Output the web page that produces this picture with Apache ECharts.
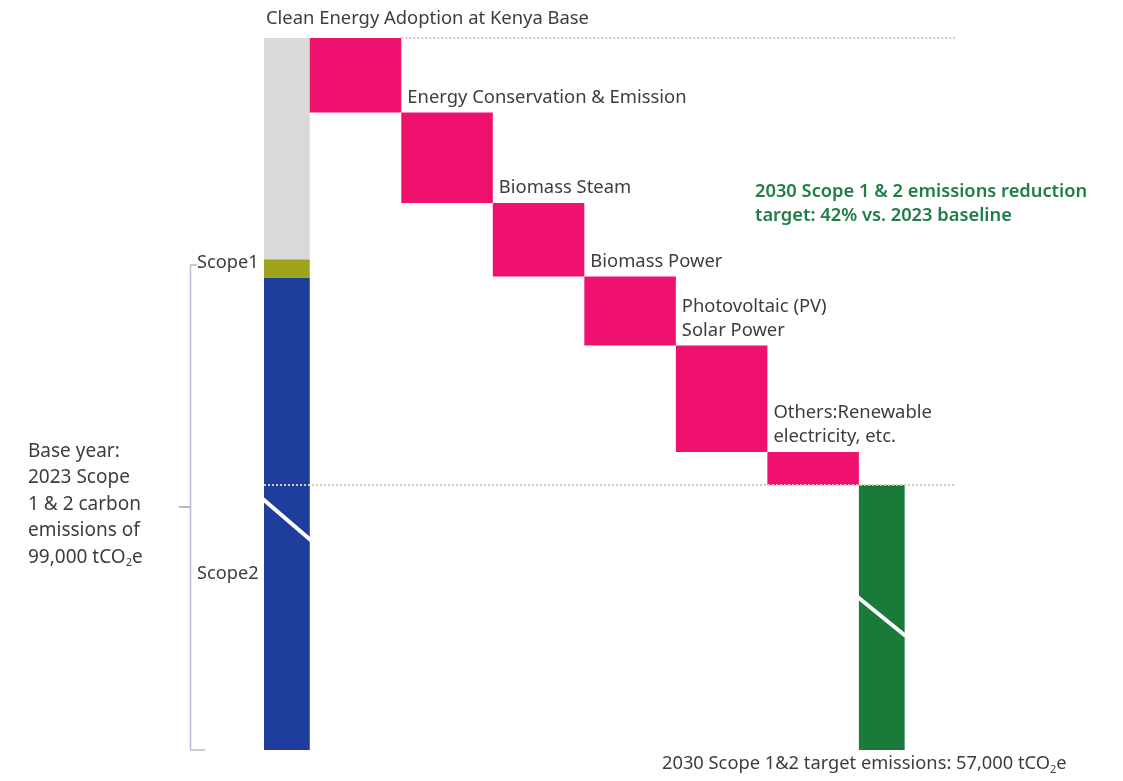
<!DOCTYPE html>
<html>
<head>
<meta charset="utf-8">
<script src="https://cdn.jsdelivr.net/npm/echarts@6/dist/echarts.min.js"></script>
<style>
html,body{margin:0;padding:0;background:#fff;}
#main{width:1123px;height:781px;}
</style>
</head>
<body>
<div id="main"></div>
<script>
// ---- data (thousand tCO2e) ----
const reductionLabels = [
  'Clean Energy Adoption at Kenya Base',
  'Energy Conservation & Emission',
  'Biomass Steam',
  'Biomass Power',
  'Photovoltaic (PV)\nSolar Power',
  'Others:Renewable\nelectricity, etc.'
];
const reductionValues = [7.0, 8.5, 6.9, 6.5, 10.0, 3.1];
const baseTotal = 99;
const baseSegmentNames = ['Scope2', 'Scope1', 'Other'];
const baseSegmentValues = [76.5, 1.7, 20.8];
const targetValue = 57;
const referenceLines = [99, 57];

const FONT = '"Noto Sans", "Open Sans", sans-serif';
const TXT = '#3d3d3d';
const colors = { Scope2: '#1f3d9c', Scope1: '#9ea51c', Other: '#d9d9d9', reduction: '#f0106e', target: '#1a7a3a' };

// build items: [x0, x1, yLow, yHigh, kind, idx]
const items = [];
let acc = 0;
baseSegmentValues.forEach((v, i) => {
  items.push([0, 1, acc, acc + v, baseSegmentNames[i], i]);
  acc += v;
});
let running = baseTotal;
reductionValues.forEach((v, i) => {
  items.push([1 + 2 * i, 3 + 2 * i, running - v, running, 'reduction', i]);
  running -= v;
});
items.push([13, 14, 0, targetValue, 'target', 0]);

const chart = echarts.init(document.getElementById('main'), null, { renderer: 'canvas' });

function renderBar(params, api) {
  const it = items[params.dataIndex];
  const p0 = api.coord([it[0], it[3]]);
  const p1 = api.coord([it[1], it[2]]);
  const kind = it[4];
  const children = [{
    type: 'rect',
    shape: { x: p0[0], y: p0[1], width: p1[0] - p0[0], height: p1[1] - p0[1] },
    style: { fill: colors[kind] }
  }];
  const yRef = api.coord([0, targetValue])[1];
  if (kind === 'Scope2') {
    children.push({ type: 'line', z2: 5,
      shape: { x1: p0[0] - 7, y1: yRef + 9, x2: p1[0] + 2, y2: yRef + 56 },
      style: { stroke: '#fff', lineWidth: 4 } });
  }
  if (kind === 'target') {
    children.push({ type: 'line', z2: 5,
      shape: { x1: p0[0] - 16, y1: yRef + 100, x2: p1[0] + 1, y2: yRef + 151 },
      style: { stroke: '#fff', lineWidth: 4 } });
  }
  if (kind === 'reduction') {
    const i = it[5];
    if (i === 0) {
      const bx = api.coord([0, baseTotal])[0];
      children.push({ type: 'text', z2: 10,
        style: { x: bx + 2, y: p0[1] - 19, text: reductionLabels[i], fill: TXT,
          font: '18.4px ' + FONT, verticalAlign: 'middle', align: 'left' } });
    } else {
      children.push({ type: 'text', z2: 10,
        style: { x: p0[0] + 6, y: p0[1] - 3, text: reductionLabels[i], fill: TXT,
          fontFamily: FONT, fontSize: 18.4, lineHeight: 24, verticalAlign: 'bottom', align: 'left' } });
    }
  }
  return { type: 'group', children: children };
}

function renderRefLine(params, api) {
  const v = referenceLines[params.dataIndex];
  const xs = params.dataIndex === 0 ? 3 : 0;
  const a = api.coord([xs, v]);
  const b = api.coord([15.1, v]);
  return { type: 'line', shape: { x1: a[0], y1: a[1], x2: b[0], y2: b[1] },
    style: { stroke: '#cfcdb6', lineWidth: 2, lineDash: [2, 2] } };
}

const option = {
  animation: false,
  backgroundColor: '#fff',
  grid: { left: 264, right: 1123 - 955, top: 38, bottom: 31 },
  xAxis: { type: 'value', min: 0, max: 15.1, show: false },
  yAxis: {
    type: 'value', min: 0, max: baseTotal, show: false,
    breaks: [{ start: 20, end: 52.1, gap: 0 }],
    breakArea: { show: false }
  },
  series: [
    { type: 'custom', renderItem: renderBar, data: items, z: 2, silent: true },
    { type: 'custom', renderItem: renderRefLine, data: referenceLines.map(v => [0, v]), z: 3, silent: true }
  ],
  graphic: [
    { type: 'polyline', shape: { points: [[197, 265], [190.5, 265], [190.5, 750], [205, 750]] },
      style: { stroke: '#b9b9cf', lineWidth: 1.5, fill: null } },
    { type: 'line', shape: { x1: 179, y1: 507, x2: 190, y2: 507 }, style: { stroke: '#a0a0a0', lineWidth: 1.5 } },
    { type: 'text', left: 197, top: 254, style: { text: 'Scope1', fill: TXT, font: '18.2px ' + FONT } },
    { type: 'text', left: 197, top: 565, style: { text: 'Scope2', fill: TXT, font: '18.2px ' + FONT } },
    { type: 'text', left: 28, top: 438,
      style: { text: 'Base year:\n2023 Scope\n1 & 2 carbon\nemissions of\n99,000 tCO{sub|2}e',
        fill: TXT, fontFamily: FONT, fontSize: 19, lineHeight: 26.5,
        rich: { sub: { fontSize: 11, padding: [12, 0, 0, 0], fill: TXT, fontFamily: FONT } } } },
    { type: 'text', left: 755, top: 180,
      style: { text: '2030 Scope 1 & 2 emissions reduction\ntarget: 42% vs. 2023 baseline',
        fill: '#1f7d48', fontFamily: FONT, fontSize: 18.3, fontWeight: 600, lineHeight: 24 } },
    { type: 'text', left: 662, top: 755,
      style: { text: '2030 Scope 1&2 target emissions: 57,000 tCO{sub|2}e',
        fill: TXT, fontFamily: FONT, fontSize: 18.3,
        rich: { sub: { fontSize: 11, padding: [12, 0, 0, 0], fill: TXT, fontFamily: FONT } } } }
  ]
};
chart.setOption(option);
</script>
</body>
</html>
